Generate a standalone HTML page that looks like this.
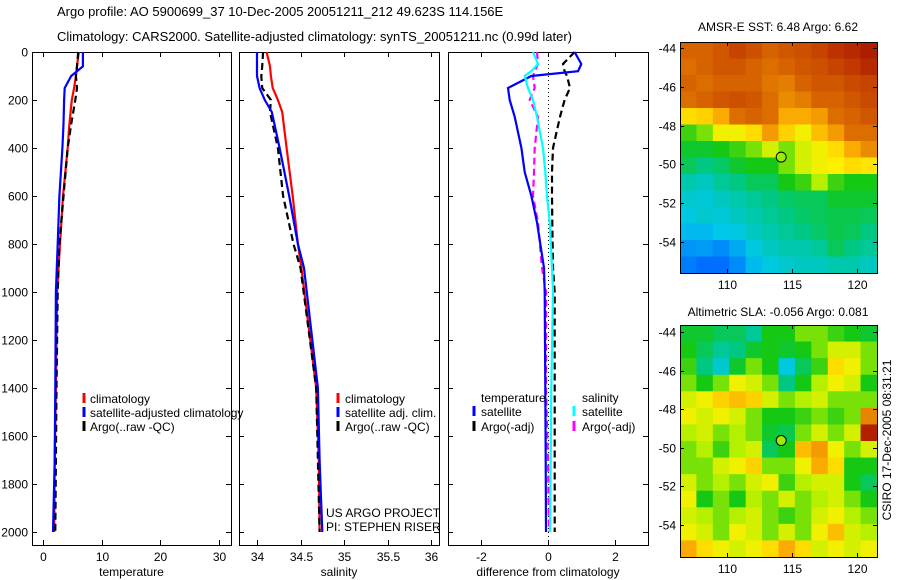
<!DOCTYPE html>
<html><head><meta charset="utf-8"><style>
body{margin:0;background:#fff;}
svg{display:block;font-family:"Liberation Sans",sans-serif;}
</style></head><body>
<svg id="c" width="900" height="580" viewBox="0 0 900 580">
<text x="57" y="16" font-size="13">Argo profile: AO 5900699_37 10-Dec-2005 20051211_212 49.623S 114.156E</text>
<text x="57" y="41" font-size="13">Climatology: CARS2000. Satellite-adjusted climatology: synTS_20051211.nc (0.99d later)</text>
<text x="778" y="31" font-size="12" text-anchor="middle">AMSR-E SST: 6.48 Argo: 6.62</text>
<text x="778" y="316" font-size="12" text-anchor="middle">Altimetric SLA: -0.056 Argo: 0.081</text>
<text transform="translate(891,440) rotate(-90)" font-size="12" text-anchor="middle">CSIRO 17-Dec-2005 08:31:21</text>
</svg>
<script>
// ---- profile data ----
const tDepth=[0,60,100,150,200,300,400,600,800,1000,1400,1700,2000];
const tClim=[6.1,5.8,5.6,5.3,4.9,4.5,4.2,3.4,2.9,2.4,2.2,2.0,1.9];
const tSat=[6.8,6.8,4.8,3.7,3.6,3.5,3.3,2.8,2.5,2.2,2.1,2.0,1.7];
const tArgo=[6.0,5.8,5.6,5.8,5.5,4.8,4.2,3.5,2.8,2.5,2.3,2.2,2.1];
const sDepth=[0,60,100,150,200,250,400,600,800,900,1400,1700,2000];
const sClim=[34.11,34.15,34.16,34.18,34.24,34.29,34.34,34.41,34.47,34.51,34.68,34.71,34.72];
const sSat=[34.0,34.0,34.0,34.03,34.09,34.17,34.26,34.37,34.47,34.54,34.70,34.72,34.75];
const sArgo=[34.07,34.06,34.05,34.06,34.16,34.15,34.24,34.30,34.42,34.50,34.68,34.70,34.72];
const dDepth=[0,50,80,100,150,200,270,400,500,600,710,900,1000,1400,1700,2000];
const dTempSat=[0.8,1.0,0.9,-0.5,-1.2,-1.15,-1.0,-0.8,-0.7,-0.5,-0.33,-0.12,-0.1,-0.08,-0.07,-0.06];
const dTempArgo=[0.8,0.45,0.5,0.57,0.66,0.5,0.36,0.15,0.12,0.12,0.13,0.15,0.2,0.2,0.2,0.2];
const dSalSat=[-0.45,-0.3,-0.5,-0.7,-0.6,-0.45,-0.33,-0.15,-0.08,-0.03,0.05,0.12,0.15,0.1,0.08,0.06];
const dSalArgo=[-0.33,-0.3,-0.4,-0.45,-0.4,-0.55,-0.3,-0.4,-0.42,-0.45,-0.3,-0.18,-0.06,-0.06,0,0.03];
const depthTicks=[0,200,400,600,800,1000,1200,1400,1600,1800,2000];
const tTicks=[0,10,20,30];
const sTicks=[34,34.5,35,35.5,36];
const sTickLabels=["34","34.5","35","35.5","36"];
const dTicks=[-2,0,2];
// ---- map data (colormap fraction 0..1), rows north->south ----
const sstGrid=[
[0.8,0.8,0.82,0.85,0.83,0.8,0.82,0.83,0.85,0.88,0.9,0.93],
[0.78,0.8,0.82,0.82,0.8,0.78,0.8,0.82,0.83,0.85,0.87,0.9],
[0.8,0.78,0.8,0.8,0.8,0.77,0.76,0.8,0.82,0.82,0.84,0.85],
[0.78,0.8,0.82,0.83,0.82,0.78,0.74,0.76,0.8,0.8,0.82,0.84],
[0.65,0.66,0.7,0.78,0.8,0.78,0.7,0.7,0.72,0.78,0.8,0.82],
[0.52,0.55,0.62,0.62,0.65,0.72,0.66,0.62,0.68,0.72,0.78,0.78],
[0.48,0.48,0.5,0.52,0.55,0.6,0.55,0.6,0.62,0.65,0.7,0.74],
[0.45,0.42,0.44,0.48,0.5,0.5,0.55,0.6,0.62,0.63,0.65,0.64],
[0.38,0.36,0.4,0.42,0.45,0.45,0.5,0.52,0.58,0.52,0.5,0.5],
[0.35,0.34,0.36,0.38,0.4,0.42,0.44,0.45,0.45,0.48,0.48,0.48],
[0.33,0.35,0.34,0.36,0.38,0.4,0.42,0.44,0.45,0.46,0.46,0.45],
[0.3,0.3,0.32,0.33,0.36,0.38,0.4,0.42,0.44,0.46,0.45,0.42],
[0.25,0.26,0.24,0.28,0.33,0.36,0.38,0.38,0.4,0.45,0.42,0.4],
[0.22,0.2,0.2,0.24,0.3,0.33,0.35,0.36,0.36,0.38,0.38,0.36]];
const slaGrid=[
[0.48,0.48,0.45,0.45,0.4,0.5,0.5,0.55,0.55,0.52,0.5,0.48],
[0.5,0.45,0.4,0.42,0.48,0.5,0.48,0.5,0.55,0.6,0.6,0.55],
[0.52,0.42,0.35,0.48,0.55,0.5,0.33,0.45,0.52,0.65,0.62,0.55],
[0.55,0.5,0.55,0.62,0.6,0.55,0.42,0.5,0.58,0.62,0.6,0.5],
[0.6,0.62,0.66,0.68,0.66,0.6,0.55,0.58,0.6,0.55,0.55,0.55],
[0.62,0.6,0.62,0.6,0.55,0.5,0.5,0.52,0.55,0.52,0.55,0.75],
[0.58,0.6,0.55,0.58,0.55,0.48,0.46,0.55,0.6,0.55,0.6,0.92],
[0.55,0.58,0.52,0.58,0.6,0.45,0.5,0.68,0.72,0.62,0.55,0.6],
[0.55,0.55,0.6,0.62,0.66,0.55,0.55,0.62,0.7,0.65,0.5,0.5],
[0.6,0.55,0.58,0.55,0.6,0.62,0.52,0.58,0.6,0.6,0.5,0.45],
[0.62,0.5,0.55,0.5,0.58,0.55,0.6,0.55,0.58,0.6,0.55,0.5],
[0.6,0.58,0.55,0.58,0.6,0.55,0.52,0.55,0.6,0.62,0.58,0.55],
[0.62,0.6,0.55,0.62,0.6,0.55,0.6,0.55,0.62,0.68,0.6,0.58],
[0.7,0.65,0.62,0.6,0.62,0.65,0.7,0.65,0.6,0.62,0.6,0.62]];
const lonTicks=[110,115,120];
const latTicks=[-44,-46,-48,-50,-52,-54];
const floatLon=114.156, floatLat=-49.623;

const NS='http://www.w3.org/2000/svg';
const svg=document.getElementById('c');
function mk(tag,attrs,parent){const e=document.createElementNS(NS,tag);for(const k in attrs)e.setAttribute(k,attrs[k]);(parent||svg).appendChild(e);return e;}
function txt(x,y,s,size,anchor,parent){const e=mk('text',{x:x,y:y,'font-size':size,'text-anchor':anchor||'start'},parent);e.textContent=s;return e;}

const yD=d=>52+d*0.24;
const panels=[
 {name:'temperature',L:32,R:231,x:v=>43+v*5.87,ticks:tTicks,labels:tTicks.map(String),title:'temperature',ylabels:true},
 {name:'salinity',L:239,R:439,x:v=>257+(v-34)*87,ticks:sTicks,labels:sTickLabels,title:'salinity',ylabels:false},
 {name:'difference',L:448,R:648,x:v=>548+v*33.3,ticks:dTicks,labels:dTicks.map(String),title:'difference from climatology',ylabels:false}];
const T=52,B=545;
panels.forEach(p=>{
 const g=mk('g',{});
 
 
 const fr=mk('rect',{x:p.L+0.5,y:T+0.5,width:p.R-p.L,height:B-T,fill:'none',stroke:'#000','stroke-width':1},g);
 
 
 p.ticks.forEach((t,i)=>{const x=Math.round(p.x(t))+0.5;
  mk('line',{x1:x,x2:x,y1:B,y2:B-5,stroke:'#000'},g);mk('line',{x1:x,x2:x,y1:T,y2:T+5,stroke:'#000'},g);
  const l=txt(x,561,p.labels[i],12,'middle',g);
  
  });
 depthTicks.forEach(d=>{const y=Math.round(yD(d))+0.5;
  mk('line',{x1:p.L,x2:p.L+5,y1:y,y2:y,stroke:'#000'},g);mk('line',{x1:p.R-5,x2:p.R,y1:y,y2:y,stroke:'#000'},g);
  if(p.ylabels){const l=txt(28,y+4,String(d),12,'end',g);
   
   }});
 const at=txt((p.L+p.R)/2,576,p.title,12,'middle',g);
 
 
});
function line(p,depths,vals,color,dash,name){
 const pts=depths.map((d,i)=>p.x(vals[i]).toFixed(1)+','+yD(d).toFixed(1)).join(' ');
 const a={points:pts,fill:'none',stroke:color,'stroke-width':2.2};
 if(dash)a['stroke-dasharray']=dash;
 const e=mk('polyline',a);
 
 
}
mk('line',{x1:548.5,x2:548.5,y1:T,y2:B,stroke:'#000','stroke-dasharray':'1 3'});
line(panels[0],tDepth,tClim,'#f00',null,'temp-climatology-line');
line(panels[0],tDepth,tArgo,'#000','7 4','temp-argo-line');
line(panels[0],tDepth,tSat,'#00f',null,'temp-satellite-line');
line(panels[1],sDepth,sClim,'#f00',null,'sal-climatology-line');
line(panels[1],sDepth,sArgo,'#000','7 4','sal-argo-line');
line(panels[1],sDepth,sSat,'#00f',null,'sal-satellite-line');
line(panels[2],dDepth,dTempArgo,'#000','7 4','diff-temp-argo-line');
line(panels[2],dDepth,dSalArgo,'#f0f','7 4','diff-sal-argo-line');
line(panels[2],dDepth,dTempSat,'#00f',null,'diff-temp-satellite-line');
line(panels[2],dDepth,dSalSat,'#0ff',null,'diff-sal-satellite-line');

function legend(mx,tx,y,color,label,name){
 mk('line',{x1:mx,x2:mx,y1:y-10,y2:y,stroke:color,'stroke-width':3});
 const e=txt(tx,y,label,12,'start');
 
 
}
legend(84,90,403,'#f00','climatology','legend-temp-climatology');
legend(84,90,417,'#00f','satellite-adjusted climatology','legend-temp-satellite');
legend(84,90,431,'#000','Argo(..raw -QC)','legend-temp-argo');
legend(338,345,403,'#f00','climatology','legend-sal-climatology');
legend(338,345,417,'#00f','satellite adj. clim.','legend-sal-satellite');
legend(338,345,431,'#000','Argo(..raw -QC)','legend-sal-argo');
{const e=txt(481,402,'temperature',12);}
{const e=txt(582,402,'salinity',12);}
legend(474,481,416,'#00f','satellite','legend-diff-temp-satellite');
legend(474,481,431,'#000','Argo(-adj)','legend-diff-temp-argo');
legend(574,582,416,'#0ff','satellite','legend-diff-sal-satellite');
legend(574,582,431,'#f0f','Argo(-adj)','legend-diff-sal-argo');
{const e=txt(326,517,'US ARGO PROJECT',12);}
{const e=txt(326,531,'PI: STEPHEN RISER',12);}

// ---- maps ----
const cmapStops=[[0,0,0,160],[0.2,0,110,255],[0.32,0,200,235],[0.42,0,200,130],[0.5,20,200,20],[0.58,180,240,0],[0.63,255,240,0],[0.7,250,170,0],[0.78,220,110,0],[0.88,190,50,0],[1,150,0,0]];
function cmap(v){v=Math.max(0,Math.min(1,v));
 for(let i=1;i<cmapStops.length;i++){const a=cmapStops[i-1],b=cmapStops[i];
  if(v<=b[0]){const f=(v-a[0])/(b[0]-a[0]);
   return 'rgb('+[1,2,3].map(k=>Math.round(a[k]+(b[k]-a[k])*f)).join(',')+')';}}
 return 'rgb(150,0,0)';}
function map(grid,top,bottom,name,lat44,lat54){
 const L=680,R=877,lon0=106.4,lon1=121.5;
 const xL=lon=>L+(lon-lon0)/(lon1-lon0)*(R-L);
 const yL=lat=>lat44+(-44-lat)/10*(lat54-lat44);
 const g=mk('g',{});
 
 
 const rows=grid.length,cols=grid[0].length,cw=(R-L)/cols,ch=(bottom-top)/rows;
 grid.forEach((row,i)=>row.forEach((v,j)=>{
  const c=mk('rect',{x:(L+j*cw).toFixed(2),y:(top+i*ch).toFixed(2),width:(cw+0.6).toFixed(2),height:(ch+0.6).toFixed(2),fill:cmap(v)},g);
  
  }));
 mk('rect',{x:L+0.5,y:top+0.5,width:R-L,height:bottom-top,fill:'none',stroke:'#000'},g);
 lonTicks.forEach(t=>{const x=Math.round(xL(t))+0.5;
  mk('line',{x1:x,x2:x,y1:bottom,y2:bottom-4,stroke:'#000'},g);mk('line',{x1:x,x2:x,y1:top,y2:top+4,stroke:'#000'},g);
  const l=txt(x,bottom+16,String(t),12,'middle',g);
  
  });
 latTicks.forEach(t=>{const y=Math.round(yL(t))+0.5;
  mk('line',{x1:L,x2:L+4,y1:y,y2:y,stroke:'#000'},g);mk('line',{x1:R-4,x2:R,y1:y,y2:y,stroke:'#000'},g);
  const l=txt(676,y+4,String(t),12,'end',g);
  
  });
 const m=mk('circle',{cx:xL(floatLon),cy:yL(floatLat),r:5,fill:'#9e0',stroke:'#000','stroke-width':1},g);
 
 
}
map(sstGrid,42,273,'sst-map',48,242);
map(slaGrid,325,557,'sla-map',332,525);
</script>
</body></html>
